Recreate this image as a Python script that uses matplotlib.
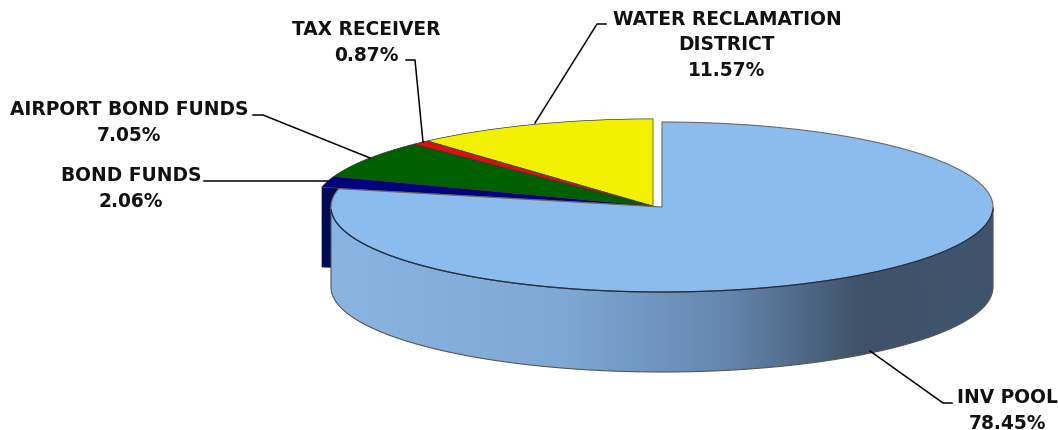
import numpy as np
import matplotlib
matplotlib.use('Agg')
import matplotlib.pyplot as plt
from matplotlib.patches import Polygon

plt.rcParams['font.family'] = ['DejaVu Sans']

# data
names = ['INV POOL', 'BOND FUNDS', 'AIRPORT BOND FUNDS', 'TAX RECEIVER', 'WATER RECLAMATION\nDISTRICT']
shares = [78.45, 2.06, 7.05, 0.87, 11.57]
colors = ['#8cbbee', '#00007f', '#006000', '#d81010', '#f2f200']
side_stops = [0.0, 0.35, 0.6, 0.8, 1.0]
side_colors = ['#8ab4e2', '#7fa8d6', '#6486ae', '#3f5269', '#3f546e']

W, H = 1058, 431
# pie ellipse in pixels
cx, cy, a, b = 662, 208, 331, 85
depth = 80
dx, dy = -9, -1
r2 = 1.025

fig = plt.figure(figsize=(W / 100, H / 100), dpi=100)
ax = fig.add_axes([0, 0, 1, 1])


def px(x, y):
    return (x - cx) / a, (cy - y) / b


# other slices, moved out of the pool
w2, _ = ax.pie(shares, colors=colors, startangle=90, counterclock=False, radius=r2,
               center=px(cx + dx, cy + dy), wedgeprops=dict(edgecolor='#333333', linewidth=0.5))
w2[0].set_visible(False)
for w in w2[1:]:
    w.set_zorder(3)

# cut face of the bond funds slice
ang = np.deg2rad(90 - shares[0] * 3.6)
ox, oy = px(cx + dx, cy + dy)
ex, ey = ox + r2 * np.cos(ang), oy + r2 * np.sin(ang)
d = depth / b
ax.add_patch(Polygon([(ox, oy), (ex, ey), (ex, ey - d), (ox, oy - d)], closed=True,
                     facecolor='#000a55', edgecolor='none', zorder=2))

# side wall of the pool
t = np.linspace(0, np.pi, 200)
top = np.column_stack([np.cos(t), -np.sin(t)])
low = top[::-1] + [0, -d]
wall = Polygon(np.vstack([top, low]), closed=True, facecolor='none', edgecolor='#555555',
               linewidth=0.8, zorder=5)
ax.add_patch(wall)
grad = np.linspace(0, 1, 512)
rgb = np.array([matplotlib.colors.to_rgb(c) for c in side_colors])
img = np.stack([np.interp(grad, side_stops, rgb[:, i]) for i in range(3)], axis=0).T[None, :, :]
im = ax.imshow(img, extent=(-1, 1, -1 - d, 0), aspect='auto', zorder=4.5)
im.set_clip_path(wall)

# pool top
w1, _ = ax.pie(shares, colors=colors, startangle=90, counterclock=False, radius=1, center=(0, 0),
               wedgeprops=dict(edgecolor='#6a6a6a', linewidth=0.8))
for w in w1[1:]:
    w.set_visible(False)
w1[0].set_zorder(6)
front = t[(t > 0.02) & (t < np.pi - 0.02)]
ax.plot(np.cos(front), -np.sin(front), color='#1f2f45', lw=0.9, zorder=7)

ax.set_aspect('auto')
ax.set_xlim(*[px(0, 0)[0], px(W, 0)[0]])
ax.set_ylim(px(0, H)[1], px(0, 0)[1])
ax.axis('off')

# leader lines
leaders = [
    [(870, 352), (943, 404), (952, 404)],
    [(328, 182), (204, 182)],
    [(370, 159), (263, 116), (253, 116)],
    [(423, 143), (415, 61), (406, 61)],
    [(535, 124), (597, 25), (606, 25)],
]
for line in leaders:
    xs, ys = zip(*[px(*p) for p in line])
    ax.plot(xs, ys, color='black', lw=1.1, zorder=8)

# labels
label_pos = [(1007, 410.5), (131, 188.5), (129.5, 122.5), (366, 42.5), (727, 45)]
for name, share, (x, y) in zip(names, shares, label_pos):
    ax.text(*px(x, y), f'{name}\n{share:.2f}%', ha='center', va='center', fontsize=13.4,
            fontweight='bold', color='#111111', linespacing=1.44, zorder=9, clip_on=False)

fig.savefig('out.png', dpi=100)
